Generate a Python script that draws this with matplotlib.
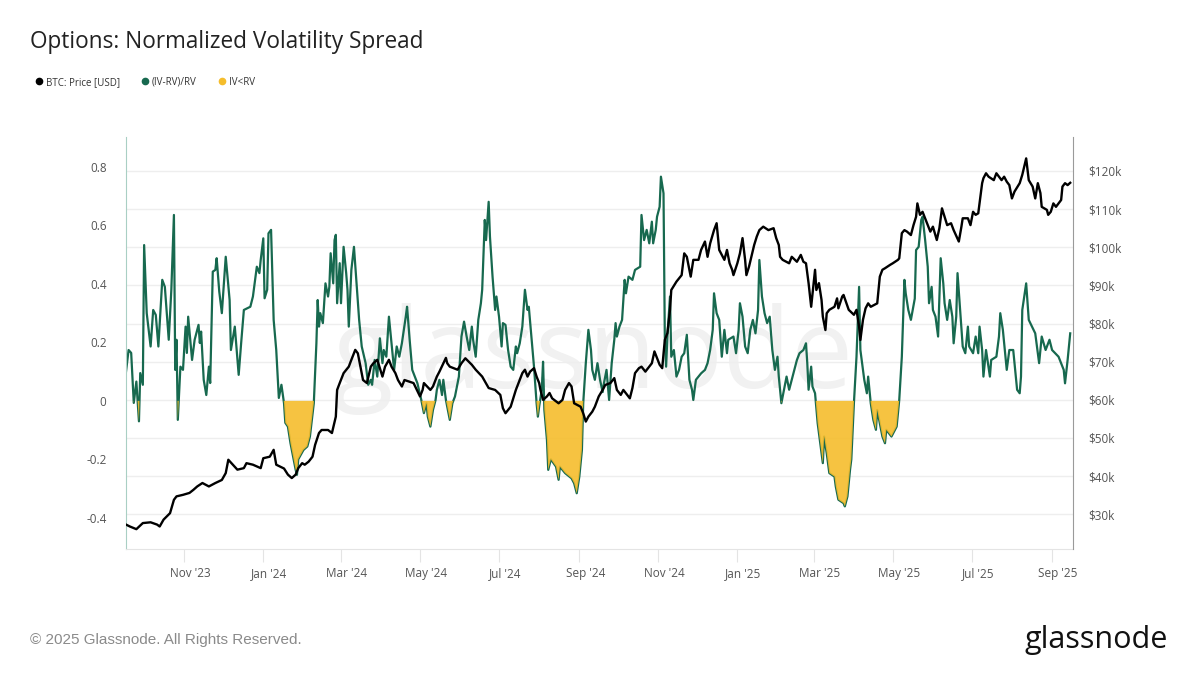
import matplotlib
matplotlib.use("Agg")
import matplotlib.pyplot as plt
import matplotlib.dates as mdates
import matplotlib.transforms as mtransforms
from matplotlib.lines import Line2D
import numpy as np
import pandas as pd

START = pd.Timestamp("2023-09-17")

# (IV-RV)/RV: day offset from START and value
spread_day = [0, 2, 4, 6, 8, 10, 11, 13, 14, 16, 19, 21, 23, 25, 28, 30, 33, 35, 37, 38,
              39, 40, 42, 44, 46, 47, 48, 51, 53, 56, 57, 58, 60, 62, 64, 65, 67, 69, 70, 72,
              74, 77, 80, 81, 84, 87, 89, 91, 96, 98, 101, 103, 104, 106, 107, 109, 110, 112, 114, 116,
              118, 120, 122, 123, 125, 127, 131, 132, 133, 137, 140, 142, 145, 147, 148, 149, 150, 152, 154, 156,
              157, 158, 160, 161, 162, 163, 165, 166, 168, 170, 171, 172, 174, 176, 178, 180, 182, 185, 187, 189,
              190, 192, 194, 196, 198, 199, 201, 203, 207, 209, 211, 213, 216, 217, 219, 221, 225, 228, 230, 232,
              233, 235, 237, 239, 240, 242, 244, 245, 247, 249, 250, 252, 254, 257, 259, 261, 263, 265, 267, 268,
              270, 272, 274, 275, 277, 278, 280, 281, 283, 285, 286, 288, 290, 291, 293, 295, 297, 299, 301, 302,
              304, 306, 308, 310, 311, 313, 315, 317, 318, 319, 321, 322, 323, 325, 326, 328, 332, 334, 335, 339,
              344, 346, 348, 350, 352, 353, 355, 357, 359, 360, 362, 364, 366, 368, 369, 371, 373, 375, 377, 378,
              379, 381, 383, 385, 386, 388, 391, 393, 397, 398, 400, 402, 404, 406, 407, 409, 410, 412, 413, 415,
              416, 417, 418, 420, 421, 423, 425, 427, 429, 431, 433, 435, 437, 438, 440, 444, 447, 449, 451, 453,
              454, 456, 458, 460, 462, 464, 465, 469, 471, 473, 474, 476, 478, 480, 482, 484, 486, 488, 489, 491,
              493, 495, 497, 499, 501, 503, 504, 506, 508, 510, 512, 514, 518, 520, 523, 525, 526, 527, 529, 530,
              532, 534, 536, 538, 539, 541, 543, 547, 548, 550, 554, 555, 557, 559, 560, 562, 564, 566, 567, 570,
              572, 573, 575, 577, 579, 580, 584, 586, 587, 591, 595, 597, 599, 601, 602, 604, 606, 609, 610, 612,
              614, 615, 617, 619, 620, 622, 623, 625, 627, 629, 631, 632, 634, 636, 638, 639, 641, 642, 644, 646,
              648, 650, 651, 654, 656, 658, 659, 661, 662, 664, 667, 668, 672, 674, 675, 677, 680, 682, 685, 686,
              688, 690, 691, 692, 695, 697, 702, 705, 707, 710, 713, 715, 720, 724, 725, 727, 729]
spread_val = [0.10, 0.174, 0.164, -0.007, 0.066, -0.07, 0.095, 0.055, 0.533, 0.30, 0.186, 0.311, 0.294, 0.186, 0.414, 0.39, 0.209, 0.38, 0.636, 0.106,
              0.209, -0.065, 0.117, 0.106, 0.254, 0.164, 0.288, 0.14, 0.209, 0.26, 0.198, 0.237, 0.072, 0.02, 0.117, 0.061, 0.442, 0.448, 0.488, 0.374,
              0.30, 0.493, 0.345, 0.174, 0.254, 0.089, 0.203, 0.311, 0.322, 0.357, 0.459, 0.437, 0.482, 0.556, 0.351, 0.38, 0.573, 0.585, 0.277, 0.174,
              0.01, 0.055, -0.008, -0.075, -0.088, -0.145, -0.236, -0.253, -0.20, -0.168, -0.156, -0.122, -0.008, 0.197, 0.345, 0.254, 0.30, 0.266, 0.402, 0.357,
              0.39, 0.505, 0.402, 0.55, 0.568, 0.334, 0.471, 0.334, 0.527, 0.437, 0.38, 0.254, 0.448, 0.527, 0.402, 0.277, 0.186, 0.129, 0.055, 0.072,
              0.055, 0.14, 0.083, 0.214, 0.129, 0.174, 0.151, 0.288, 0.106, 0.186, 0.151, 0.197, 0.288, 0.322, 0.209, 0.106, 0.06, 0.003, -0.042, -0.008,
              -0.054, -0.088, -0.031, 0.003, 0.038, 0.072, 0.02, 0.072, 0.003, -0.042, -0.065, -0.008, 0.015, 0.083, 0.22, 0.271, 0.22, 0.174, 0.254, 0.209,
              0.151, 0.277, 0.334, 0.38, 0.619, 0.55, 0.681, 0.562, 0.425, 0.311, 0.357, 0.288, 0.186, 0.266, 0.26, 0.174, 0.117, 0.106, 0.186, 0.163,
              0.197, 0.254, 0.38, 0.311, 0.322, 0.22, 0.117, -0.008, -0.054, -0.019, 0.038, 0.134, -0.031, -0.133, -0.236, -0.20, -0.225, -0.27, -0.225, -0.247,
              -0.265, -0.282, -0.316, -0.259, -0.168, -0.008, 0.129, 0.243, 0.174, 0.106, 0.072, 0.129, 0.072, 0.03, 0.06, 0.106, 0.003, 0.129, 0.209, 0.266,
              0.22, 0.254, 0.277, 0.414, 0.368, 0.425, 0.414, 0.448, 0.459, 0.636, 0.55, 0.585, 0.539, 0.613, 0.539, 0.585, 0.63, 0.664, 0.767, 0.71,
              0.22, 0.117, 0.22, 0.357, 0.151, 0.174, 0.083, 0.106, 0.151, 0.163, 0.226, 0.072, 0.038, 0.003, 0.072, 0.094, 0.106, 0.129, 0.174, 0.243,
              0.368, 0.30, 0.277, 0.151, 0.243, 0.163, 0.209, 0.22, 0.163, 0.243, 0.334, 0.288, 0.186, 0.163, 0.243, 0.277, 0.231, 0.311, 0.482, 0.357,
              0.30, 0.266, 0.288, 0.174, 0.106, 0.151, 0.083, -0.008, 0.038, 0.083, 0.038, 0.072, 0.14, 0.163, 0.174, 0.197, 0.129, 0.038, 0.117, 0.049,
              0.026, -0.076, -0.145, -0.213, -0.122, -0.179, -0.247, -0.259, -0.293, -0.338, -0.35, -0.361, -0.327, -0.236, -0.20, -0.008, 0.151, 0.39, 0.174, 0.072,
              0.026, 0.083, -0.008, -0.065, -0.099, -0.031, -0.122, -0.145, -0.099, -0.122, -0.088, 0.003, 0.151, 0.414, 0.368, 0.311, 0.277, 0.35, 0.516, 0.527,
              0.619, 0.63, 0.55, 0.459, 0.334, 0.39, 0.311, 0.288, 0.22, 0.488, 0.402, 0.334, 0.277, 0.345, 0.288, 0.197, 0.288, 0.437, 0.311, 0.186,
              0.163, 0.254, 0.186, 0.163, 0.22, 0.163, 0.254, 0.174, 0.083, 0.174, 0.083, 0.14, 0.151, 0.22, 0.30, 0.243, 0.106, 0.174, 0.174, 0.129,
              0.038, 0.026, 0.083, 0.311, 0.402, 0.277, 0.231, 0.129, 0.22, 0.174, 0.209, 0.174, 0.151, 0.106, 0.06, 0.14, 0.231]

# BTC price in thousands of USD: day offset from START and value
price_day = [0, 3, 8, 13, 19, 24, 26, 29, 34, 37, 39, 44, 49, 52, 55, 59, 64, 69, 74, 77,
             79, 86, 91, 93, 98, 104, 106, 111, 114, 116, 122, 125, 128, 131, 133, 136, 138, 141, 144, 146,
             149, 151, 156, 159, 162, 163, 165, 168, 172, 174, 177, 179, 181, 183, 186, 189, 191, 194, 198, 200,
             203, 205, 208, 210, 213, 215, 222, 227, 229, 230, 235, 237, 240, 242, 247, 248, 250, 256, 259, 262,
             267, 270, 275, 280, 285, 289, 291, 293, 297, 301, 304, 306, 308, 310, 312, 315, 317, 319, 320, 322,
             325, 327, 329, 334, 337, 339, 342, 344, 346, 351, 353, 355, 357, 360, 362, 365, 368, 370, 374, 377,
             379, 382, 384, 389, 391, 393, 396, 398, 401, 406, 408, 412, 414, 416, 418, 420, 421, 425, 429, 431,
             433, 436, 438, 442, 444, 447, 449, 451, 454, 456, 458, 462, 464, 466, 468, 469, 472, 474, 476, 478,
             479, 481, 485, 487, 489, 492, 496, 500, 502, 504, 505, 507, 512, 514, 518, 521, 523, 525, 527, 529,
             532, 533, 535, 537, 538, 540, 541, 543, 547, 549, 550, 553, 554, 558, 562, 564, 566, 567, 569, 571,
             573, 575, 580, 582, 584, 586, 590, 592, 596, 597, 599, 601, 603, 606, 608, 610, 611, 613, 615, 619,
             621, 623, 626, 628, 630, 634, 637, 639, 643, 645, 646, 650, 652, 654, 656, 658, 661, 662, 664, 666,
             670, 672, 676, 678, 680, 682, 684, 686, 690, 692, 695, 697, 700, 702, 704, 706, 707, 711, 712, 714,
             716, 718, 722, 723, 725, 727, 729]
price_k = [27.3, 26.8, 26.1, 27.7, 27.9, 27.3, 26.8, 28.6, 30.3, 33.8, 34.7, 35.1, 35.6, 36.4, 37.3, 38.2, 37.3, 38.2, 39.0, 40.8,
           44.3, 41.7, 42.1, 43.4, 43.0, 42.1, 44.7, 45.1, 46.9, 43.0, 42.0, 40.4, 39.5, 40.4, 42.1, 43.4, 43.0, 43.8, 45.1, 48.2,
           51.3, 52.1, 52.1, 51.3, 55.6, 62.6, 64.4, 67.0, 68.7, 70.5, 73.1, 72.2, 68.7, 65.2, 64.4, 68.7, 69.6, 70.5, 66.1, 68.7,
           70.5, 68.7, 67.0, 65.2, 63.5, 65.2, 64.4, 60.9, 62.6, 64.4, 62.6, 63.5, 66.1, 67.4, 71.0, 69.6, 68.7, 67.9, 69.6, 70.9,
           69.2, 67.9, 66.1, 63.1, 62.6, 61.3, 57.8, 56.5, 58.2, 62.6, 65.2, 67.0, 67.9, 66.1, 67.4, 68.3, 66.1, 64.4, 62.6, 60.0,
           60.9, 61.8, 60.4, 59.1, 60.0, 62.6, 64.4, 63.5, 59.1, 58.2, 56.5, 54.3, 55.6, 56.9, 58.2, 60.9, 62.6, 63.9, 64.4, 65.7,
           62.6, 61.3, 62.6, 60.4, 63.1, 67.0, 68.3, 68.7, 67.4, 69.6, 72.7, 69.2, 68.3, 75.7, 77.5, 83.6, 88.8, 91.0, 92.7, 98.4,
           97.5, 92.3, 96.7, 96.7, 99.3, 101.5, 97.5, 101.0, 104.5, 106.3, 99.3, 96.7, 99.3, 95.8, 94.1, 92.7, 95.8, 98.4, 102.4, 96.7,
           92.7, 94.9, 100.6, 102.8, 104.5, 105.4, 104.5, 105.0, 102.4, 100.6, 97.5, 96.7, 95.8, 97.5, 96.2, 98.0, 96.2, 95.8, 90.6, 84.4,
           94.1, 88.8, 90.6, 86.2, 81.8, 78.3, 82.7, 83.6, 84.4, 86.6, 84.0, 87.1, 87.5, 83.6, 82.3, 83.6, 79.2, 75.7, 81.0, 84.0,
           85.3, 84.4, 85.3, 92.3, 94.1, 94.5, 95.4, 95.8, 96.7, 97.1, 103.7, 104.5, 104.1, 103.2, 105.8, 108.0, 111.5, 108.5, 109.3, 105.8,
           104.1, 105.4, 101.9, 105.0, 110.2, 105.8, 106.3, 104.5, 101.5, 105.4, 107.6, 107.6, 105.8, 109.3, 108.5, 108.9, 116.8, 118.1, 119.4, 118.5,
           117.6, 119.4, 117.6, 118.5, 117.2, 116.3, 112.8, 114.6, 116.8, 119.0, 123.3, 117.6, 115.9, 112.8, 116.8, 114.2, 110.6, 109.8, 108.5, 109.3,
           111.5, 110.6, 112.4, 115.9, 116.8, 116.3, 116.9]

left_ticks = [-0.4, -0.2, 0, 0.2, 0.4, 0.6, 0.8]
left_labels = ["-0.4", "-0.2", "0", "0.2", "0.4", "0.6", "0.8"]
price_ticks_k = [30, 40, 50, 60, 70, 80, 90, 100, 110, 120]

GREEN = "#17694f"
YELLOW = "#f5bd2c"
FONT = ["Open Sans", "DejaVu Sans"]
plt.rcParams["font.family"] = FONT

spread_dates = START + pd.to_timedelta(spread_day, unit="D")
price_dates = START + pd.to_timedelta(price_day, unit="D")
spread = np.array(spread_val)

fig = plt.figure(figsize=(12, 6.75), dpi=100)
ax = fig.add_axes([0.105, 0.187, 0.789, 0.610])
ax2 = ax.twinx()

LEFT_LIM = (-0.506, 0.9026)
RIGHT_LIM = (20.96, 128.9)
ax.set_ylim(*LEFT_LIM)
ax2.set_ylim(*RIGHT_LIM)
ax.set_xlim(START, START + pd.Timedelta(days=731))

# watermark
ax.text(0.493, 0.46, "glassnode", transform=ax.transAxes, ha="center", va="center",
        fontsize=80, color="#f1f1f1", zorder=0, fontweight="medium")

# gridlines follow the price ticks; draw them on the base axes so they stay behind the lines
scale = (LEFT_LIM[1] - LEFT_LIM[0]) / (RIGHT_LIM[1] - RIGHT_LIM[0])
grid_pos = [LEFT_LIM[0] + (p - RIGHT_LIM[0]) * scale for p in price_ticks_k]
ax.set_yticks(grid_pos, minor=True)
ax.grid(which="minor", axis="y", color="#eeeeee", linewidth=1.0, zorder=0)
ax.tick_params(axis="y", which="minor", length=0)

ax.plot(spread_dates, spread, color=GREEN, linewidth=1.6, zorder=2)
ax.fill_between(spread_dates, spread, 0, where=spread < 0, interpolate=True,
                color=YELLOW, alpha=0.9, linewidth=0, zorder=3)
ax2.plot(price_dates, price_k, color="black", linewidth=1.7, zorder=4)

ax.set_yticks(left_ticks)
ax.set_yticklabels(left_labels)
ax2.set_yticks(price_ticks_k)
ax2.set_yticklabels([f"${p}k" for p in price_ticks_k])
ax.tick_params(axis="y", length=0, labelsize=8.5, labelcolor="#555555", pad=14)
ax2.tick_params(axis="y", length=0, labelsize=8.5, labelcolor="#555555", pad=11)

ax.xaxis.set_major_locator(mdates.MonthLocator(bymonth=[1, 3, 5, 7, 9, 11]))
ax.xaxis.set_major_formatter(mdates.DateFormatter("%b '%y"))
ax.tick_params(axis="x", length=9, color="#e4e4e4", labelsize=8.5, labelcolor="#555555", pad=4)
shift = mtransforms.ScaledTranslation(6 / 100, 0, fig.dpi_scale_trans)
for lab in ax.get_xticklabels():
    lab.set_transform(lab.get_transform() + shift)

for a in (ax, ax2):
    a.spines["top"].set_visible(False)
    a.patch.set_visible(False)
ax.spines["left"].set_color("#a9cfc4")
ax.spines["right"].set_visible(False)
ax2.spines["left"].set_visible(False)
ax2.spines["right"].set_color("#9a9a9a")
ax.spines["bottom"].set_color("#e4e4e4")
ax2.spines["bottom"].set_visible(False)

fig.text(0.025, 0.938, "Options: Normalized Volatility Spread", fontsize=16.3, color="#222222",
         ha="left", va="center")

handles = [Line2D([], [], marker="o", ls="", color=c, markersize=4.5) for c in ("black", GREEN, YELLOW)]
fig.legend(handles, ["BTC: Price [USD]", "(IV-RV)/RV", "IV<RV"], loc="center left",
           bbox_to_anchor=(0.022, 0.878), ncol=3, frameon=False, fontsize=7, handlelength=0.8,
           handletextpad=0.3, columnspacing=2.2, labelcolor="#333333")

fig.text(0.025, 0.052, "\u00a9 2025 Glassnode. All Rights Reserved.", fontsize=11, color="#8a8a8a",
         ha="left", va="center", family=["Liberation Sans", "DejaVu Sans"])
fig.text(0.973, 0.052, "glassnode", fontsize=22, color="#111111", ha="right", va="center",
         fontweight="medium")

fig.savefig("out.png", dpi=100, facecolor="white")
